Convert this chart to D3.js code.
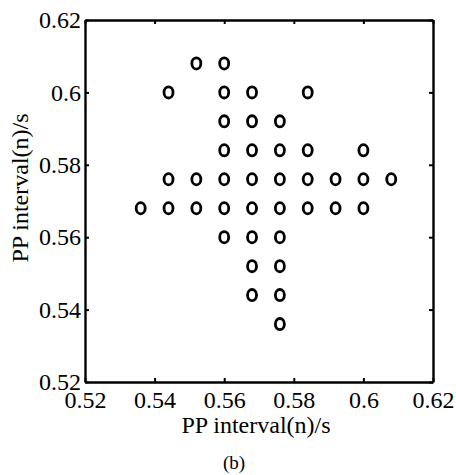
<!DOCTYPE html>
<html>
<head>
<meta charset="utf-8">
<script src="https://cdn.jsdelivr.net/npm/d3@7"></script>
<style>
    body { margin: 0; background: #fff; }
    text { font-family: "Liberation Serif", "Times New Roman", serif; fill: #000; }
</style>
</head>
<body>
<div id="chart-container"></div>
<script>
// PP interval(n) (x) against PP interval(n+1) (y), one row of points per y value
const rowY = [0.608, 0.600, 0.592, 0.584, 0.576, 0.568, 0.560, 0.552, 0.544, 0.536];
const rowX = [
    [0.552, 0.560],
    [0.544, 0.560, 0.568, 0.584],
    [0.560, 0.568, 0.576],
    [0.560, 0.568, 0.576, 0.584, 0.600],
    [0.544, 0.552, 0.560, 0.568, 0.576, 0.584, 0.592, 0.600, 0.608],
    [0.536, 0.544, 0.552, 0.560, 0.568, 0.576, 0.584, 0.592, 0.600],
    [0.560, 0.568, 0.576],
    [0.568, 0.576],
    [0.568, 0.576],
    [0.576]
];
const tickValues = [0.52, 0.54, 0.56, 0.58, 0.6, 0.62];
const xTitle = "PP interval(n)/s";
const yTitle = "PP interval(n)/s";
const caption = "(b)";

const margin = { top: 20, right: 23, bottom: 93, left: 85 };
const width = 456 - margin.left - margin.right;
const height = 475 - margin.top - margin.bottom;

const points = [];
rowY.forEach((yv, i) => rowX[i].forEach(xv => points.push({ x: xv, y: yv })));

const svg = d3.select('#chart-container')
    .append('svg')
    .attr('width', 456)
    .attr('height', 475);

const g = svg.append('g')
    .attr('transform', 'translate(' + margin.left + ',' + margin.top + ')');

const x = d3.scaleLinear().domain([0.52, 0.62]).range([0, width]);
const y = d3.scaleLinear().domain([0.52, 0.62]).range([height, 0]);

const fmt = d => d3.format('')(+d.toFixed(2));

// axes with inward ticks, box style
const styleAxis = sel => {
    sel.select('.domain').attr('stroke', '#000').attr('stroke-width', 2.4);
    sel.selectAll('.tick line').attr('stroke', '#000').attr('stroke-width', 2);
    sel.selectAll('.tick text').style('font-size', '24px');
};

g.append('g')
    .attr('transform', 'translate(0,' + height + ')')
    .call(d3.axisBottom(x).tickValues(tickValues).tickSize(-4).tickSizeOuter(0).tickPadding(9).tickFormat(fmt))
    .call(styleAxis);

g.append('g')
    .call(d3.axisLeft(y).tickValues(tickValues).tickSize(-4).tickSizeOuter(0).tickPadding(4).tickFormat(fmt))
    .call(styleAxis);

g.append('g')
    .call(d3.axisTop(x).tickValues(tickValues).tickSize(-4).tickSizeOuter(0).tickFormat(''))
    .call(styleAxis);

g.append('g')
    .attr('transform', 'translate(' + width + ',0)')
    .call(d3.axisRight(y).tickValues(tickValues).tickSize(-4).tickSizeOuter(0).tickFormat(''))
    .call(styleAxis);

// circle markers
g.selectAll('.dot')
    .data(points)
    .enter().append('ellipse')
    .attr('class', 'dot')
    .attr('cx', d => x(d.x))
    .attr('cy', d => y(d.y))
    .attr('rx', 4.5)
    .attr('ry', 5.6)
    .attr('fill', 'none')
    .attr('stroke', '#000')
    .attr('stroke-width', 2.8);

// titles
svg.append('text')
    .attr('x', 256)
    .attr('y', 433)
    .attr('text-anchor', 'middle')
    .style('font-size', '24px')
    .text(xTitle);

svg.append('text')
    .attr('transform', 'translate(28,188) rotate(-90)')
    .attr('text-anchor', 'middle')
    .style('font-size', '24px')
    .text(yTitle);

svg.append('text')
    .attr('x', 234)
    .attr('y', 469)
    .attr('text-anchor', 'middle')
    .style('font-size', '19px')
    .text(caption);
</script>
</body>
</html>
